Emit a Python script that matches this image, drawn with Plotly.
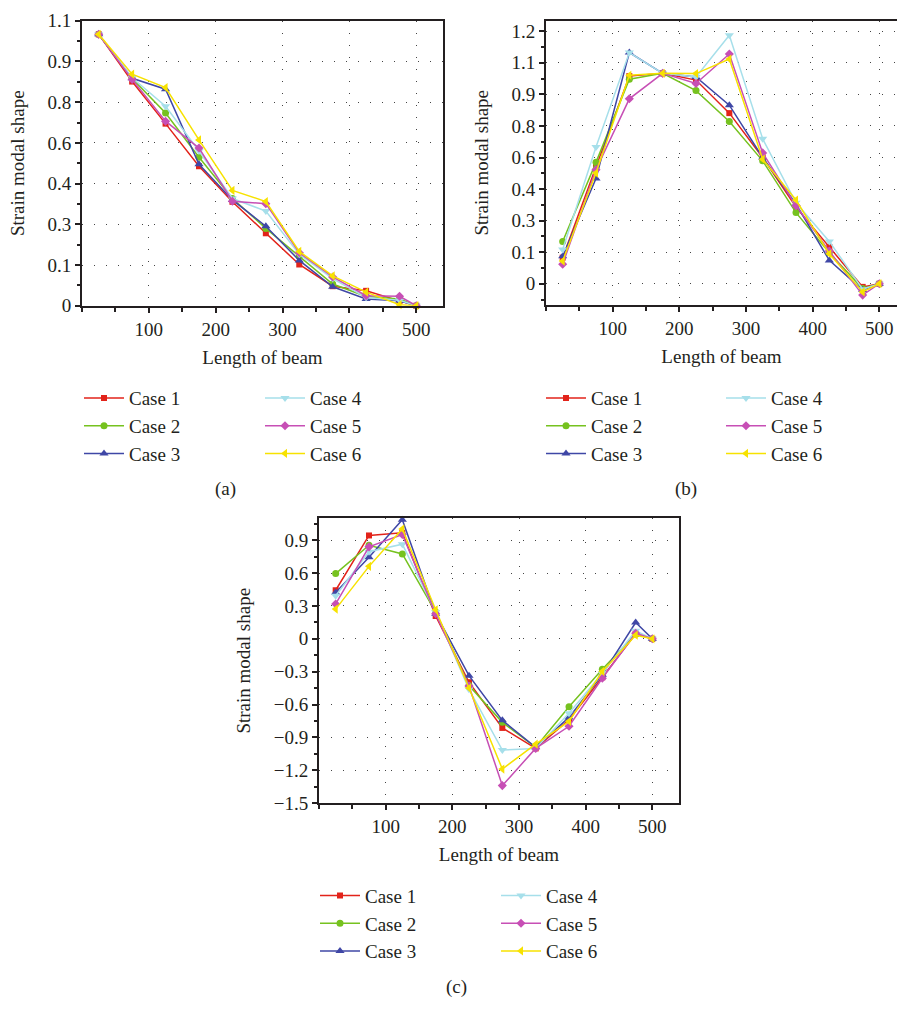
import plotly.graph_objects as go

# ---------------- data ----------------
beam_x = [25, 75, 125, 175, 225, 275, 325, 375, 425, 475, 500]
case_names = ["Case 1", "Case 2", "Case 3", "Case 4", "Case 5", "Case 6"]

a_case1 = [1.0, 0.826, 0.671, 0.514, 0.383, 0.267, 0.152, 0.072, 0.055, 0.018, 0]
a_case2 = [1.0, 0.837, 0.710, 0.547, 0.395, 0.285, 0.182, 0.080, 0.034, 0.025, 0]
a_case3 = [1.0, 0.838, 0.798, 0.521, 0.390, 0.293, 0.167, 0.070, 0.025, 0.018, 0]
a_case4 = [1.0, 0.840, 0.735, 0.570, 0.395, 0.349, 0.190, 0.100, 0.030, 0.020, 0]
a_case5 = [1.0, 0.834, 0.680, 0.581, 0.385, 0.376, 0.195, 0.106, 0.037, 0.035, 0]
a_case6 = [1.0, 0.853, 0.804, 0.611, 0.425, 0.384, 0.200, 0.110, 0.050, 0.004, 0]

b_case1 = [0.124, 0.557, 0.987, 1.0, 0.968, 0.811, 0.600, 0.364, 0.175, -0.015, 0]
b_case2 = [0.201, 0.577, 0.972, 1.0, 0.918, 0.771, 0.584, 0.338, 0.147, -0.023, 0]
b_case3 = [0.131, 0.500, 1.099, 1.0, 0.983, 0.849, 0.600, 0.379, 0.111, -0.030, 0]
b_case4 = [0.163, 0.650, 1.099, 1.0, 0.983, 1.181, 0.689, 0.385, 0.201, -0.026, 0]
b_case5 = [0.093, 0.542, 0.879, 1.0, 0.952, 1.092, 0.622, 0.371, 0.155, -0.054, 0]
b_case6 = [0.108, 0.526, 0.991, 1.0, 0.999, 1.068, 0.592, 0.398, 0.142, -0.039, 0]

c_case1 = [0.443, 0.943, 0.967, 0.208, -0.396, -0.813, -1.000, -0.738, -0.351, 0.045, 0]
c_case2 = [0.595, 0.854, 0.774, 0.244, -0.426, -0.762, -0.990, -0.619, -0.277, 0.042, 0]
c_case3 = [0.423, 0.744, 1.086, 0.229, -0.336, -0.744, -0.990, -0.717, -0.327, 0.149, 0]
c_case4 = [0.393, 0.795, 0.863, 0.244, -0.461, -1.015, -1.000, -0.679, -0.315, 0.074, 0]
c_case5 = [0.318, 0.839, 0.952, 0.229, -0.430, -1.339, -1.000, -0.798, -0.360, 0.051, 0]
c_case6 = [0.271, 0.661, 1.003, 0.265, -0.449, -1.188, -0.961, -0.753, -0.298, 0.033, 0]

x_tickvals = [100, 200, 300, 400, 500]
ab_tickvals = [0, 0.15, 0.3, 0.45, 0.6, 0.75, 0.9, 1.05, 1.2]
ab_ticktext = ["0", "0.1", "0.3", "0.4", "0.6", "0.8", "0.9", "1.1", "1.2"]
c_tickvals = [-1.5, -1.2, -0.9, -0.6, -0.3, 0, 0.3, 0.6, 0.9]
c_ticktext = ["\u22121.5", "\u22121.2", "\u22120.9", "\u22120.6", "\u22120.3", "0", "0.3", "0.6", "0.9"]

# ---------------- styles ----------------
colors = ["#e2231a", "#76c21f", "#3f47a6", "#a6dfea", "#c74fb5", "#f7e200"]
symbols = ["square", "circle", "triangle-up", "triangle-down", "diamond", "triangle-left"]
msizes = [6, 7, 8, 8, 7, 8]

FONT = "Liberation Serif"
FS = 19
W, H = 897, 1014

fig = go.Figure()

panels = [
    ("x", "y", [a_case1, a_case2, a_case3, a_case4, a_case5, a_case6], ("legend", "legend2")),
    ("x2", "y2", [b_case1, b_case2, b_case3, b_case4, b_case5, b_case6], ("legend3", "legend4")),
    ("x3", "y3", [c_case1, c_case2, c_case3, c_case4, c_case5, c_case6], ("legend5", "legend6")),
]

for xa, ya, series, legs in panels:
    for i, vals in enumerate(series):
        fig.add_trace(go.Scatter(
            x=beam_x, y=vals, xaxis=xa, yaxis=ya,
            mode="lines+markers", name=case_names[i],
            line=dict(color=colors[i], width=1.5),
            marker=dict(symbol=symbols[i], size=msizes[i], color=colors[i]),
            legend=legs[0] if i < 3 else legs[1],
            cliponaxis=False,
        ))

def px_x(p):
    return p / W

def px_y(p):
    return 1 - p / H

tickfont = dict(family=FONT, size=FS, color="#231f20")
titlefont = dict(family=FONT, size=FS, color="#231f20")

def xaxis(domain, rng, anchor):
    return dict(
        domain=domain, range=rng, anchor=anchor,
        tickvals=x_tickvals, ticks="outside", ticklen=5, tickwidth=1.5, tickcolor="#231f20",
        minor=dict(dtick=50, tick0=0, ticks="outside", ticklen=4, tickwidth=1.5, tickcolor="#231f20", showgrid=False),
        showline=True, linecolor="#231f20", linewidth=2, mirror=True,
        showgrid=True, gridcolor="#444444", gridwidth=1, griddash="1px,11px",
        zeroline=False, tickfont=tickfont,
        title=dict(text="Length of beam", font=titlefont, standoff=12),
    )

def yaxis(domain, rng, anchor, tv, tt, minor_dt, mirror):
    return dict(
        domain=domain, range=rng, anchor=anchor,
        tickvals=tv, ticktext=tt, ticks="outside", ticklen=5, tickwidth=1.5, tickcolor="#231f20",
        minor=dict(dtick=minor_dt, tick0=0, ticks="outside", ticklen=3, tickwidth=1.5, tickcolor="#231f20", showgrid=False),
        showline=True, linecolor="#231f20", linewidth=2, mirror=mirror,
        showgrid=True, gridcolor="#444444", gridwidth=1, griddash="1px,11px",
        zeroline=False, tickfont=tickfont,
        title=dict(text="Strain modal shape", font=titlefont, standoff=18),
    )

def legend(xpx, ypx):
    return dict(
        x=px_x(xpx), y=px_y(ypx), xanchor="left", yanchor="top",
        font=dict(family=FONT, size=FS, color="#231f20"),
        bgcolor="rgba(0,0,0,0)", borderwidth=0, tracegroupgap=0,
        itemwidth=40,
    )

def caption(text, xpx, ypx):
    return dict(text=text, x=px_x(xpx), y=px_y(ypx), xref="paper", yref="paper",
                xanchor="center", yanchor="middle", showarrow=False,
                font=dict(family=FONT, size=FS, color="#231f20"))

fig.update_layout(
    width=W, height=H,
    margin=dict(l=0, r=0, t=0, b=0),
    paper_bgcolor="white", plot_bgcolor="white",
    font=dict(family=FONT, size=FS, color="#231f20"),
    xaxis=xaxis([px_x(82), px_x(443)], [0, 540], "y"),
    yaxis=yaxis([px_y(302), px_y(11)], [0, 1.05], "x", ab_tickvals[:-1], ab_ticktext[:-1], 0.075, True),
    xaxis2=xaxis([px_x(546), 1.0], [0, 526.5], "y2"),
    yaxis2=yaxis([px_y(301), px_y(11)], [-0.1, 1.25], "x2", ab_tickvals, ab_ticktext, 0.075, False),
    xaxis3=xaxis([px_x(319), px_x(679)], [0, 540], "y3"),
    yaxis3=yaxis([px_y(810), px_y(519)], [-1.5, 1.1], "x3", c_tickvals, c_ticktext, 0.15, True),
    legend=legend(79, 377),
    legend2=legend(260, 377),
    legend3=legend(541, 377),
    legend4=legend(721, 377),
    legend5=legend(315, 885),
    legend6=legend(496, 885),
    annotations=[
        caption("(a)", 225, 489),
        caption("(b)", 686, 489),
        caption("(c)", 457, 998),
    ],
)

fig.write_html("out.html")
